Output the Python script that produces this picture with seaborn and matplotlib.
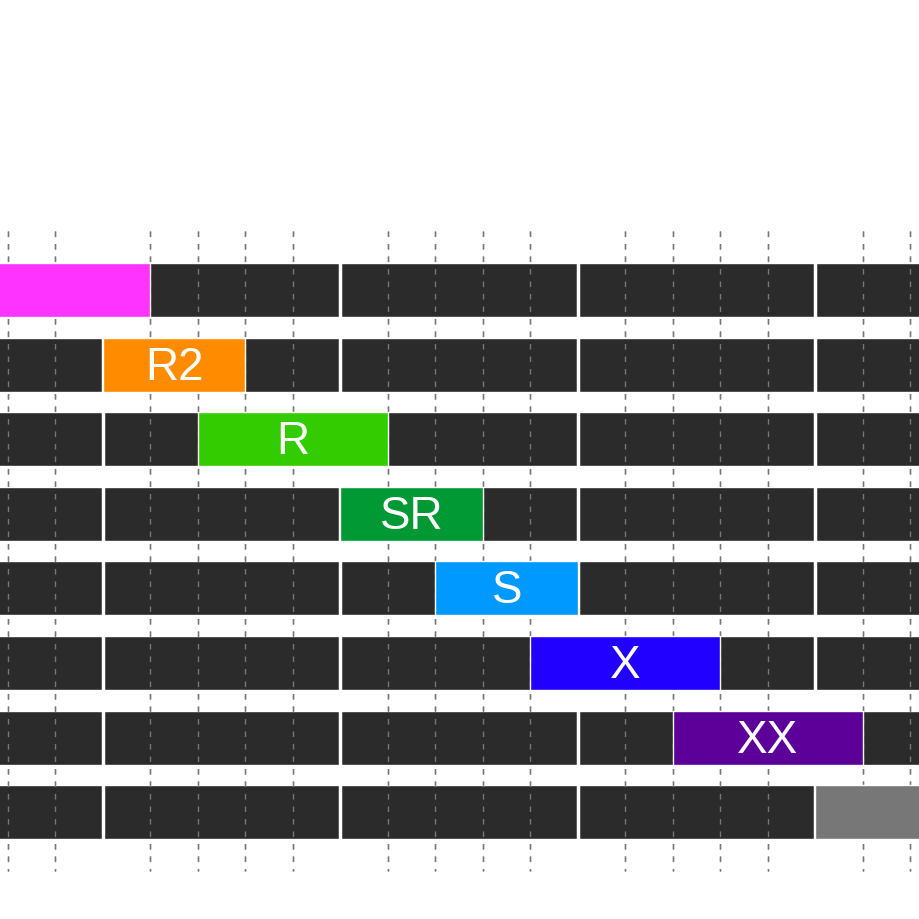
import matplotlib
matplotlib.use("Agg")
import matplotlib.pyplot as plt
import seaborn as sns
import pandas as pd

labels = ["", "R2", "R", "SR", "S", "X", "XX", ""]
starts = [-1, 2, 4, 7, 9, 11, 14, 17]
ends = [3, 5, 8, 10, 12, 15, 18, 21]
colors = ["#ff33ff", "#ff8c00", "#33cc00", "#009933", "#0099ff", "#2200ff", "#5c0099", "#777777"]
separators = [2, 7, 12, 17]
grid = list(range(0, 20))

sns.set_style("white")
fig = plt.figure(figsize=(9.2, 9.2), dpi=100)
ax = fig.add_axes([0, 0, 1, 1])
ax.set_xlim(-8/47.5, 912/47.5)
ax.set_ylim(920, 0)
ax.axis("off")

ycent = [291 + 74.6*i for i in range(len(labels))]
df = pd.DataFrame({"row": range(len(labels)), "y": ycent})

for g in grid:
    ax.vlines(g, 232, 872, colors="#888888", linestyles=(0, (4, 5)), lw=1, zorder=1)

ax.barh(ycent, [25]*len(ycent), left=-2, height=54, color="#2b2b2b", zorder=2)
for s in separators:
    ax.vlines(s, 230, 880, colors="white", lw=2.5, zorder=3)
for g in grid:
    if g not in separators:
        ax.vlines(g, 232, 872, colors="#777777", linestyles=(0, (4, 5)), lw=1, zorder=2.5)

for y, s, e, c, t in zip(ycent, starts, ends, colors, labels):
    ax.barh(y, e - s, left=s, height=54, color=c, zorder=4)
    if t:
        ax.text((s + e) / 2, y + 2, t, color="white", fontsize=33, ha="center", va="center",
                family="Liberation Sans", zorder=5)

fig.savefig("out.png", dpi=100)
